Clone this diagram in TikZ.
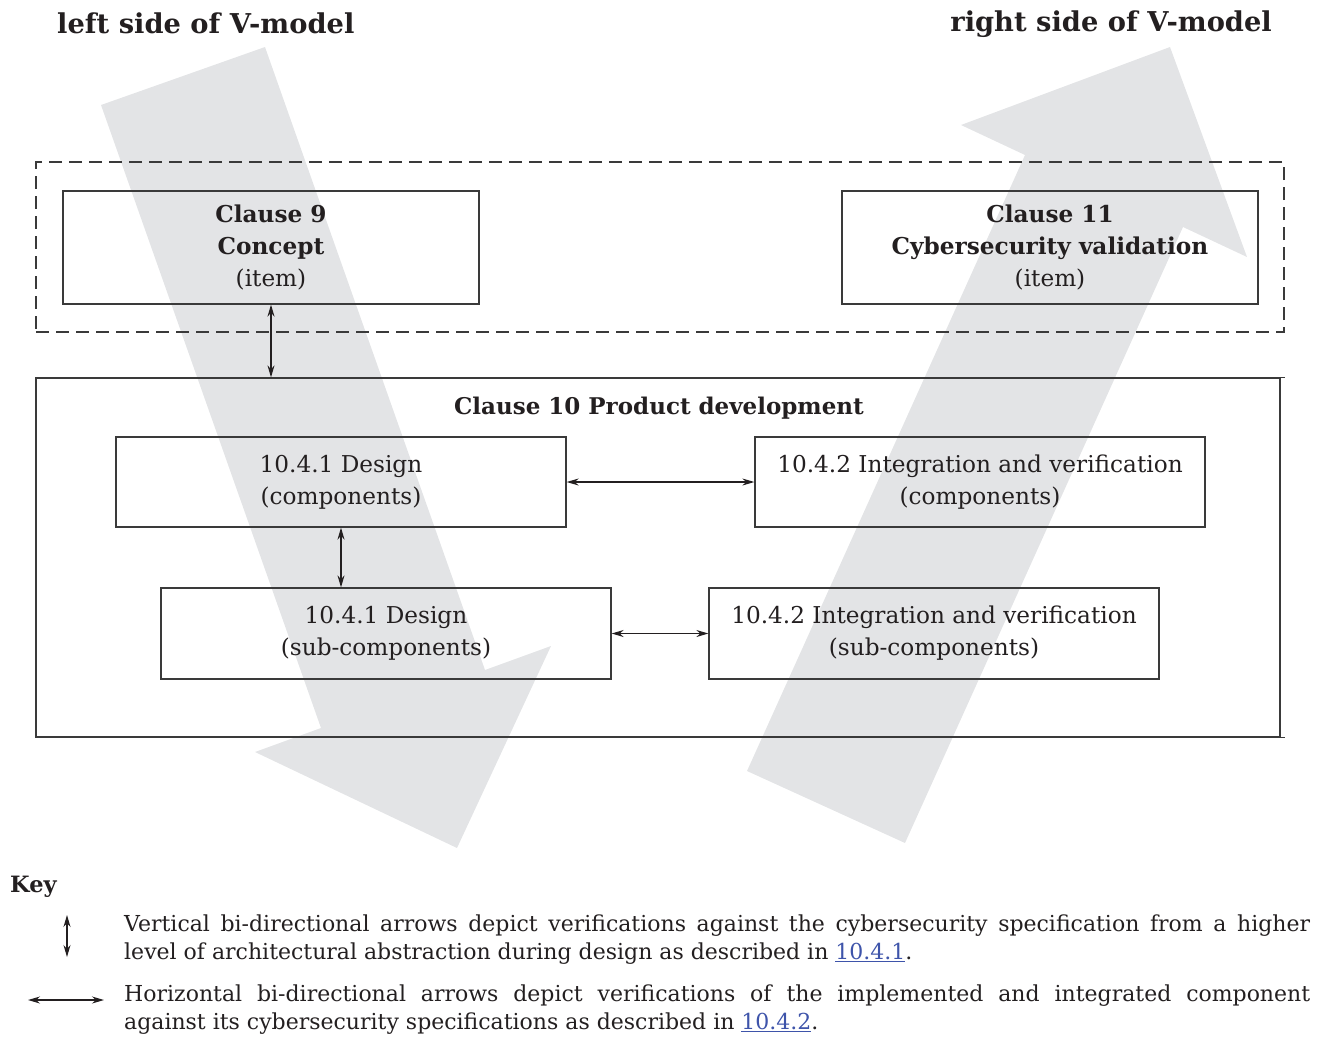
\documentclass[tikz,border=0pt]{standalone}
\usepackage{fontspec}
\setmainfont{DejaVu Serif}
\usetikzlibrary{arrows.meta}

\definecolor{vband}{RGB}{227,228,230}
\definecolor{ink}{RGB}{35,31,32}
\definecolor{frame}{RGB}{58,58,58}
\definecolor{linkblue}{RGB}{62,84,170}

\tikzset{
  boxtext/.style={font=\fontsize{23.2}{32}\selectfont, text=ink},
  box/.style={draw=frame, line width=1.3pt, align=center, inner sep=0pt, boxtext},
  biarrow/.style={draw=ink, line width=1.2pt,
    {Stealth[length=12pt,width=7pt]}-{Stealth[length=12pt,width=7pt]}},
  heading/.style={font=\fontsize{27.3}{30}\selectfont\bfseries, text=ink, inner sep=0pt},
  keytext/.style={font=\fontsize{22}{28}\selectfont, text=ink, inner sep=0pt,
    text width=1186pt, align=justify},
}
\newcommand{\reflink}[1]{\textcolor{linkblue}{\underline{#1}}}

\begin{document}
\begin{tikzpicture}[x=1pt,y=-1pt]
\useasboundingbox (0,0) rectangle (1328,1037);

% the two broad V-model arrows in the background
\fill[vband] (101,105) -- (265,47) -- (485,670) -- (551,646) -- (457,848)
  -- (255,752) -- (321,728) -- cycle;
\fill[vband] (747,771) -- (1025,155) -- (961,125) -- (1170,47) -- (1247,257)
  -- (1183,227) -- (905,843) -- cycle;

% side headings
\node[heading, anchor=base west] (lefthead) at (57,33) {left side of V-model};
\node[heading, anchor=base east] (righthead) at (1272,31) {right side of V-model};

% item level (dashed frame)
\node[draw=frame, line width=1.2pt, dash pattern=on 13pt off 7pt,
  minimum width=1248pt, minimum height=170pt, inner sep=0pt] (itemlevel) at (660,247) {};
\node[box, minimum width=416pt, minimum height=113pt] (c9) at (271,247.5)
  {\textbf{Clause 9}\\\textbf{Concept}\\(item)};
\node[box, minimum width=416pt, minimum height=113pt] (c11) at (1050,247.5)
  {\textbf{Clause 11}\\\textbf{Cybersecurity validation}\\(item)};

% product development frame
\node[draw=frame, line width=1.3pt, minimum width=1244pt, minimum height=359pt,
  inner sep=0pt] (pd) at (658,557.5) {};
\draw[frame, line width=1.3pt] (pd.north east) -- ++(4,0);
\draw[frame, line width=1.3pt] (pd.south east) -- ++(4,0);
\node[boxtext, font=\fontsize{23}{30}\selectfont\bfseries, anchor=base] (pdtitle)
  at (659,414) {Clause 10 Product development};

\node[box, minimum width=450pt, minimum height=90pt] (d1) at (341,482)
  {10.4.1 Design\\(components)};
\node[box, minimum width=450pt, minimum height=90pt] (i1) at (980,482)
  {10.4.2 Integration and verification\\(components)};
\node[box, minimum width=450pt, minimum height=91pt] (d2) at (386,633.5)
  {10.4.1 Design\\(sub-components)};
\node[box, minimum width=450pt, minimum height=91pt] (i2) at (934,633.5)
  {10.4.2 Integration and verification\\(sub-components)};

% verification arrows
\draw[biarrow] (c9.south) -- (c9.south |- pd.north);
\draw[biarrow] (d1.south) -- (d1.south |- d2.north);
\draw[biarrow] (d1.east) -- (i1.west);
\draw[biarrow] (d2.east) -- (i2.west);

% key
\node[heading, font=\fontsize{22.5}{28}\selectfont\bfseries, anchor=base west] (keyhead)
  at (10,892) {Key};
\coordinate (kv1) at (67,915);
\coordinate (kv2) at (67,957);
\draw[biarrow] (kv1) -- (kv2);
\coordinate (kh1) at (28,1000);
\coordinate (kh2) at (104,1000);
\draw[biarrow] (kh1) -- (kh2);

\node[keytext, anchor=north west] (keyv) at (124,915)
  {Vertical bi-directional arrows depict verifications against the cybersecurity specification from a higher\linebreak
   level of architectural abstraction during design as described in \reflink{10.4.1}.};
\node[keytext, anchor=north west] (keyh) at (124,985)
  {Horizontal bi-directional arrows depict verifications of the implemented and integrated component\linebreak
   against its cybersecurity specifications as described in \reflink{10.4.2}.};
\end{tikzpicture}
\end{document}
